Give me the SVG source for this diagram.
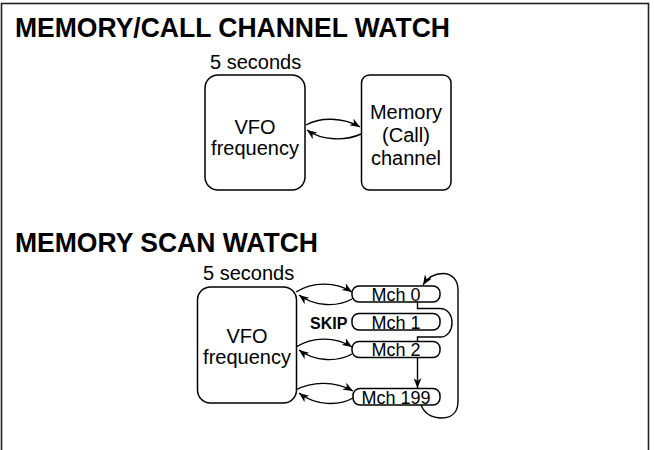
<svg xmlns="http://www.w3.org/2000/svg" width="654" height="450" viewBox="0 0 654 450">
<defs>
<style>
text{font-family:"Liberation Sans",Arial,Helvetica,sans-serif;fill:#000}
.t{font-size:27px;font-weight:bold}
.b{font-size:20px}
.m{font-size:18px;text-anchor:middle}
.c{text-anchor:middle}
.box{fill:#fff;stroke:#000;stroke-width:1.5}
.ln{fill:none;stroke:#000;stroke-width:1.4}
</style>
<marker id="ah" viewBox="0 0 10 8" refX="10" refY="4" markerWidth="10" markerHeight="8" orient="auto" markerUnits="userSpaceOnUse">
<path d="M0,0 L10,4 L0,8 L3,4 z" fill="#000"/>
</marker>
</defs>
<rect x="0" y="0" width="654" height="450" fill="#fff"/>
<rect x="1.5" y="3.5" width="647" height="460" fill="none" stroke="#222" stroke-width="1.6"/>
<g id="title1"><text class="t" x="15" y="37" textLength="435" lengthAdjust="spacingAndGlyphs">MEMORY/CALL CHANNEL WATCH</text></g>
<g id="title2"><text class="t" x="15" y="252" textLength="303" lengthAdjust="spacingAndGlyphs">MEMORY SCAN WATCH</text></g>

<g id="vfo1">
<rect class="box" x="205" y="75" width="100" height="115" rx="13"/>
<text class="b" x="210" y="69">5 seconds</text>
<text class="b c" x="255" y="134">VFO</text>
<text class="b c" x="255" y="155">frequency</text>
</g>
<g id="memory1">
<rect class="box" x="361.5" y="75" width="89.5" height="115" rx="8"/>
<text class="b c" x="406" y="119">Memory</text>
<text class="b c" x="406" y="142">(Call)</text>
<text class="b c" x="406" y="165">channel</text>
</g>

<g id="vfo2">
<rect class="box" x="197.5" y="287" width="99" height="116" rx="13"/>
<text class="b" x="203" y="280">5 seconds</text>
<text class="b c" x="247" y="343">VFO</text>
<text class="b c" x="247" y="364">frequency</text>
</g>
<g id="mch0">
<rect class="box" x="352" y="286" width="88" height="16" rx="7"/>
<text class="m" x="396" y="300.5">Mch 0</text>
</g>
<g id="mch1">
<rect class="box" x="352" y="313.5" width="88" height="16.5" rx="7"/>
<text class="m" x="396" y="328.5">Mch 1</text>
<text x="310" y="329" font-size="16" font-weight="bold">SKIP</text>
</g>
<g id="mch2">
<rect class="box" x="352" y="341.5" width="88" height="16" rx="7"/>
<text class="m" x="396" y="356">Mch 2</text>
</g>
<g id="mch199">
<rect class="box" x="353" y="388.5" width="87" height="16.5" rx="7"/>
<text class="m" x="396" y="403.5">Mch 199</text>
</g>

<g id="connectors">
<path class="ln" marker-end="url(#ah)" d="M306,125 C320,117 343,117 360,127"/>
<path class="ln" marker-end="url(#ah)" d="M361,134 C346,141 322,141 307,130"/>

<path class="ln" marker-end="url(#ah)" d="M296,292 C312,282 335,281 352,292"/>
<path class="ln" marker-end="url(#ah)" d="M352,299 C338,307 315,307 299,295"/>

<path class="ln" marker-end="url(#ah)" d="M296,347 C312,337 335,336 352,347"/>
<path class="ln" marker-end="url(#ah)" d="M352,354 C338,362 315,362 299,350"/>

<path class="ln" marker-end="url(#ah)" d="M296,390 C312,381 335,381 353,391"/>
<path class="ln" marker-end="url(#ah)" d="M353,398 C339,406 316,406 299,393"/>

<path class="ln" d="M417.5,302 L417.5,308.5 L440,308.5 C456,308.5 456,337 440,337 L417.5,337 L417.5,341.5"/>
<path class="ln" marker-end="url(#ah)" d="M417.5,357.5 L417.5,388"/>
<path class="ln" marker-end="url(#ah)" d="M421,405 C425,415 432,418 442,418 C452,418 458,412 458,401 L458,290 C458,280 452,273.5 443,273.5 C435,273.5 428,277 423,285"/>
</g>
</svg>
